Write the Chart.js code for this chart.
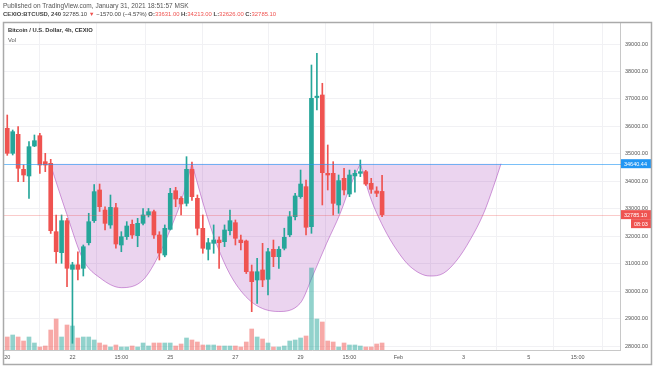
<!DOCTYPE html>
<html>
<head>
<meta charset="utf-8">
<script src="https://cdn.jsdelivr.net/npm/chart.js@4.4.1/dist/chart.umd.min.js"></script>
<style>
  body { margin: 0; background: #fff; font-family: "Liberation Sans", Arial, sans-serif; }
  #wrap { position: relative; width: 654px; height: 366px; overflow: hidden; }
  #btc { position: absolute; left: 0; top: 0; }
  .txt { position: absolute; white-space: nowrap; color: #444; }
  .red { color: #ef5350; }
</style>
</head>
<body>
<div id="wrap">
  <canvas id="btc" width="654" height="366"></canvas>
  <div class="txt" style="left:3px;top:2px;font-size:6.5px;color:#555">Published on TradingView.com, January 31, 2021 18:51:57 MSK</div>
  <div class="txt" style="left:3px;top:11px;font-size:5.9px"><b>CEXIO:BTCUSD, 240</b> 32785.10 <span class="red">&#9660;</span> &minus;1570.00 (&minus;4.57%) <b>O:</b><span class="red">33631.00</span> <b>H:</b><span class="red">34213.00</span> <b>L:</b><span class="red">32626.00</span> <b>C:</b><span class="red">32785.10</span></div>
  <div class="txt" style="left:8px;top:27px;font-size:5.8px;color:#333"><b>Bitcoin / U.S. Dollar, 4h, CEXIO</b></div>
  <div class="txt" style="left:8px;top:37px;font-size:5.8px;color:#555">Vol</div>
</div>
<script>
// 4h candles, index 0 = Jan 20 first bar
const opens = [35930,35019,35711,34436,34193,35285,35661,34714,34655,32164,
  31399,32565,30793,30958,30831,31763,32565,33683,32954,32408,
  33038,31680,31982,32432,32020,32469,32773,32893,32044,31315,
  32250,33657,33380,33197,34436,33380,32287,31523,31740,31860,
  31800,32200,32492,31860,31825,30707,30405,30770,30430,31523,
  31253,31560,32050,32710,33440,33804,32346,37050,37143,34290,
  34290,33137,34108,33537,34193,34290,34350,33926,33646,33631];
const highs = [36414,35868,35988,34593,35442,35686,35748,35019,34800,32773,
  32773,32650,31050,31435,31680,32834,33882,33900,33074,33500,
  33197,32164,32530,32590,32650,33010,33010,32955,32164,32410,
  33743,33780,33440,34896,34700,33500,32773,31920,32410,31980,
  32410,32955,32590,32044,31860,30950,31195,31740,31560,31860,
  31620,32290,32900,33560,34410,34047,38235,38660,37569,35322,
  34714,34229,34470,34410,34410,34776,34400,34108,33800,34213];
const lows = [34945,34958,33985,33985,33380,35260,34290,34350,32100,31013,
  31013,30162,28100,30405,30550,31680,32500,32900,32226,32287,
  31560,31435,31880,31920,31617,32410,32700,31920,31133,31250,
  32226,33074,32773,33100,33300,32044,31378,31133,31378,30830,
  31620,32044,31680,31500,30640,29250,29555,30160,29860,30890,
  30830,31500,31980,32590,33380,32044,32105,36600,33137,33683,
  32773,32834,33500,33440,33600,34170,33850,33560,33440,32710];
const closes = [35019,35806,34473,34229,35260,35478,34593,34593,32200,31435,
  32565,30831,30958,30793,31617,32528,33622,33074,32468,33050,
  31716,31982,32371,32044,32469,32773,32893,32044,31387,32287,
  33561,33354,33173,34436,33440,32287,31560,31763,31860,31763,
  32226,32565,31924,31763,30707,30344,30707,30405,31435,31253,
  31523,31960,32710,33465,33900,32325,37022,37100,34313,34229,
  33197,34023,33683,34229,34290,34350,33900,33707,33563,32785.1];
const volumes = [1300,1500,1300,900,1300,700,300,400,2000,3100,
  1300,2500,2400,1200,1300,1300,1000,700,500,300,
  500,300,300,400,300,700,400,700,700,700,
  700,400,600,1200,1000,800,500,500,500,400,
  400,400,400,300,800,2100,1300,1100,700,300,
  300,400,900,1000,1200,1400,8200,3100,2800,900,
  800,300,700,500,500,400,300,300,600,700];

// cup drawings (bar index, price)
const cupOneX = [7.9, 10.9, 14.0, 17.1, 21.0, 25.0, 28.1, 30.5, 32.1, 33.3, 34.0];
const cupOneY = [34640, 32834, 31133, 30478, 30125, 30405, 31388, 32481, 33318, 34156, 34640];
const cupTwoX = [34.0, 36.7, 39.2, 41.6, 45.3, 49.9, 53.9, 56.3, 58.8, 61.3, 63.1, 65.0];
const cupTwoY = [34640, 32773, 31378, 30405, 29555, 29257, 29550, 30590, 31742, 32834, 33803, 34640];
const cupThreeX = [65.0, 66.8, 69.2, 71.7, 74.2, 77.8, 80.3, 82.8, 85.2, 87.7, 89.5, 90.9];
const cupThreeY = [34640, 33439, 32346, 31497, 30889, 30550, 30649, 31133, 31862, 32834, 33803, 34640];

const levelPrice = 34640.44;
const lastPrice = 32785.10;
const countdown = "08:03";

const priceTicks = [28000,29000,30000,31000,32000,33000,34000,35000,36000,37000,38000,39000];
const timeTickIdx = [0, 12, 21, 30, 42, 54, 63, 72, 84, 96, 105];
const timeTickLabels = ["20", "22", "15:00", "25", "27", "29", "15:00", "Feb", "3", "5", "15:00"];

const UP = "#26a69a", DOWN = "#ef5350";
const isUp = closes.map((c, i) => c >= opens[i]);
const candleCol = isUp.map(u => u ? UP : DOWN);
const volCol = isUp.map(u => u ? "rgba(38,166,154,0.5)" : "rgba(239,83,80,0.5)");

const bodies = opens.map((o, i) => ({x: i, y: [o, closes[i]]}));
const wicks = lows.map((l, i) => ({x: i, y: [l, highs[i]]}));
const vols = volumes.map((v, i) => ({x: i, y: v}));
const pts = (xs, ys) => xs.map((x, i) => ({x: x, y: ys[i]}));

function cup(xs, ys) {
  return {
    type: "line", data: pts(xs, ys), yAxisID: "y", order: 10,
    borderColor: "rgba(156,39,176,0.45)", borderWidth: 1,
    backgroundColor: "rgba(156,39,176,0.2)",
    fill: {value: levelPrice}, pointRadius: 0,
    cubicInterpolationMode: "monotone"
  };
}

const frame = {
  id: "frame",
  beforeDraw(chart) {
    const c = chart.ctx;
    c.save();
    c.fillStyle = "#fff";
    c.fillRect(0, 0, chart.width, chart.height);
    c.restore();
  },
  afterDatasetsDraw(chart) {
    const c = chart.ctx, a = chart.chartArea, y = chart.scales.y;
    c.save();
    // last price line
    let py = Math.round(y.getPixelForValue(lastPrice)) + 0.5;
    c.strokeStyle = "rgba(239,83,80,0.3)";
    c.beginPath(); c.moveTo(a.left, py); c.lineTo(a.right, py); c.stroke();
    // horizontal level
    let ly = Math.round(y.getPixelForValue(levelPrice)) + 0.5;
    c.strokeStyle = "rgba(33,150,243,0.6)";
    c.beginPath(); c.moveTo(a.left, ly); c.lineTo(a.right + 4, ly); c.stroke();
    c.restore();
  },
  afterDraw(chart) {
    const c = chart.ctx, a = chart.chartArea, y = chart.scales.y;
    c.save();
    c.font = "5.5px 'Liberation Sans', Arial";
    c.textBaseline = "middle";
    const box = (val, txt, bg, x0, dy) => {
      const py = y.getPixelForValue(val) + dy;
      c.fillStyle = bg;
      c.fillRect(x0, py - 4.5, 652 - x0, 9);
      c.fillStyle = "#fff";
      c.textAlign = "left";
      c.fillText(txt, x0 + 3, py + 0.5);
    };
    box(levelPrice, levelPrice.toFixed(2), "#2196f3", a.right + 1, 0);
    box(lastPrice, lastPrice.toFixed(2), "#ef5350", a.right + 1, 0);
    box(lastPrice, countdown, "#ef5350", a.right + 11, 9);
    // outer frame
    c.strokeStyle = "#aaa";
    c.lineWidth = 1.5;
    c.strokeRect(3.5, 22.5, 648, 342);
    c.restore();
  }
};

new Chart(document.getElementById("btc"), {
  type: "bar",
  data: {
    datasets: [
      {data: wicks, backgroundColor: candleCol, barThickness: 1, grouped: false, order: 3, yAxisID: "y"},
      {data: bodies, backgroundColor: candleCol, barThickness: 4, minBarLength: 1, grouped: false, order: 2, yAxisID: "y"},
      {data: vols, backgroundColor: volCol, barThickness: 4, grouped: false, order: 8, yAxisID: "vol"},
      cup(cupOneX, cupOneY),
      cup(cupTwoX, cupTwoY),
      cup(cupThreeX, cupThreeY)
    ]
  },
  options: {
    responsive: false,
    animation: false,
    layout: {padding: {left: 4, top: 23, right: 2, bottom: 1}},
    plugins: {legend: {display: false}, tooltip: {enabled: false}},
    scales: {
      x: {
        type: "linear", min: -0.6, max: 112.8, offset: false,
        grid: {color: "#f1f1f4", drawTicks: false},
        border: {color: "#c8c8c8"},
        afterBuildTicks: s => { s.ticks = timeTickIdx.map(v => ({value: v})); },
        afterFit: s => { s.height = 15; },
        ticks: {
          autoSkip: false, maxRotation: 0, padding: 4, color: "#555",
          font: {size: 5.5, family: "'Liberation Sans', Arial"},
          callback: v => timeTickLabels[timeTickIdx.indexOf(v)]
        }
      },
      y: {
        position: "right", min: 27855, max: 39765,
        grid: {color: "#f1f1f4", drawTicks: false},
        border: {color: "#c8c8c8"},
        afterBuildTicks: s => { s.ticks = priceTicks.map(v => ({value: v})); },
        afterFit: s => { s.width = 32; },
        ticks: {
          padding: 5, color: "#555",
          font: {size: 5.5, family: "'Liberation Sans', Arial"},
          callback: v => v.toFixed(2)
        }
      },
      vol: {display: false, min: 0, max: 32700}
    }
  },
  plugins: [frame]
});
</script>
</body>
</html>
